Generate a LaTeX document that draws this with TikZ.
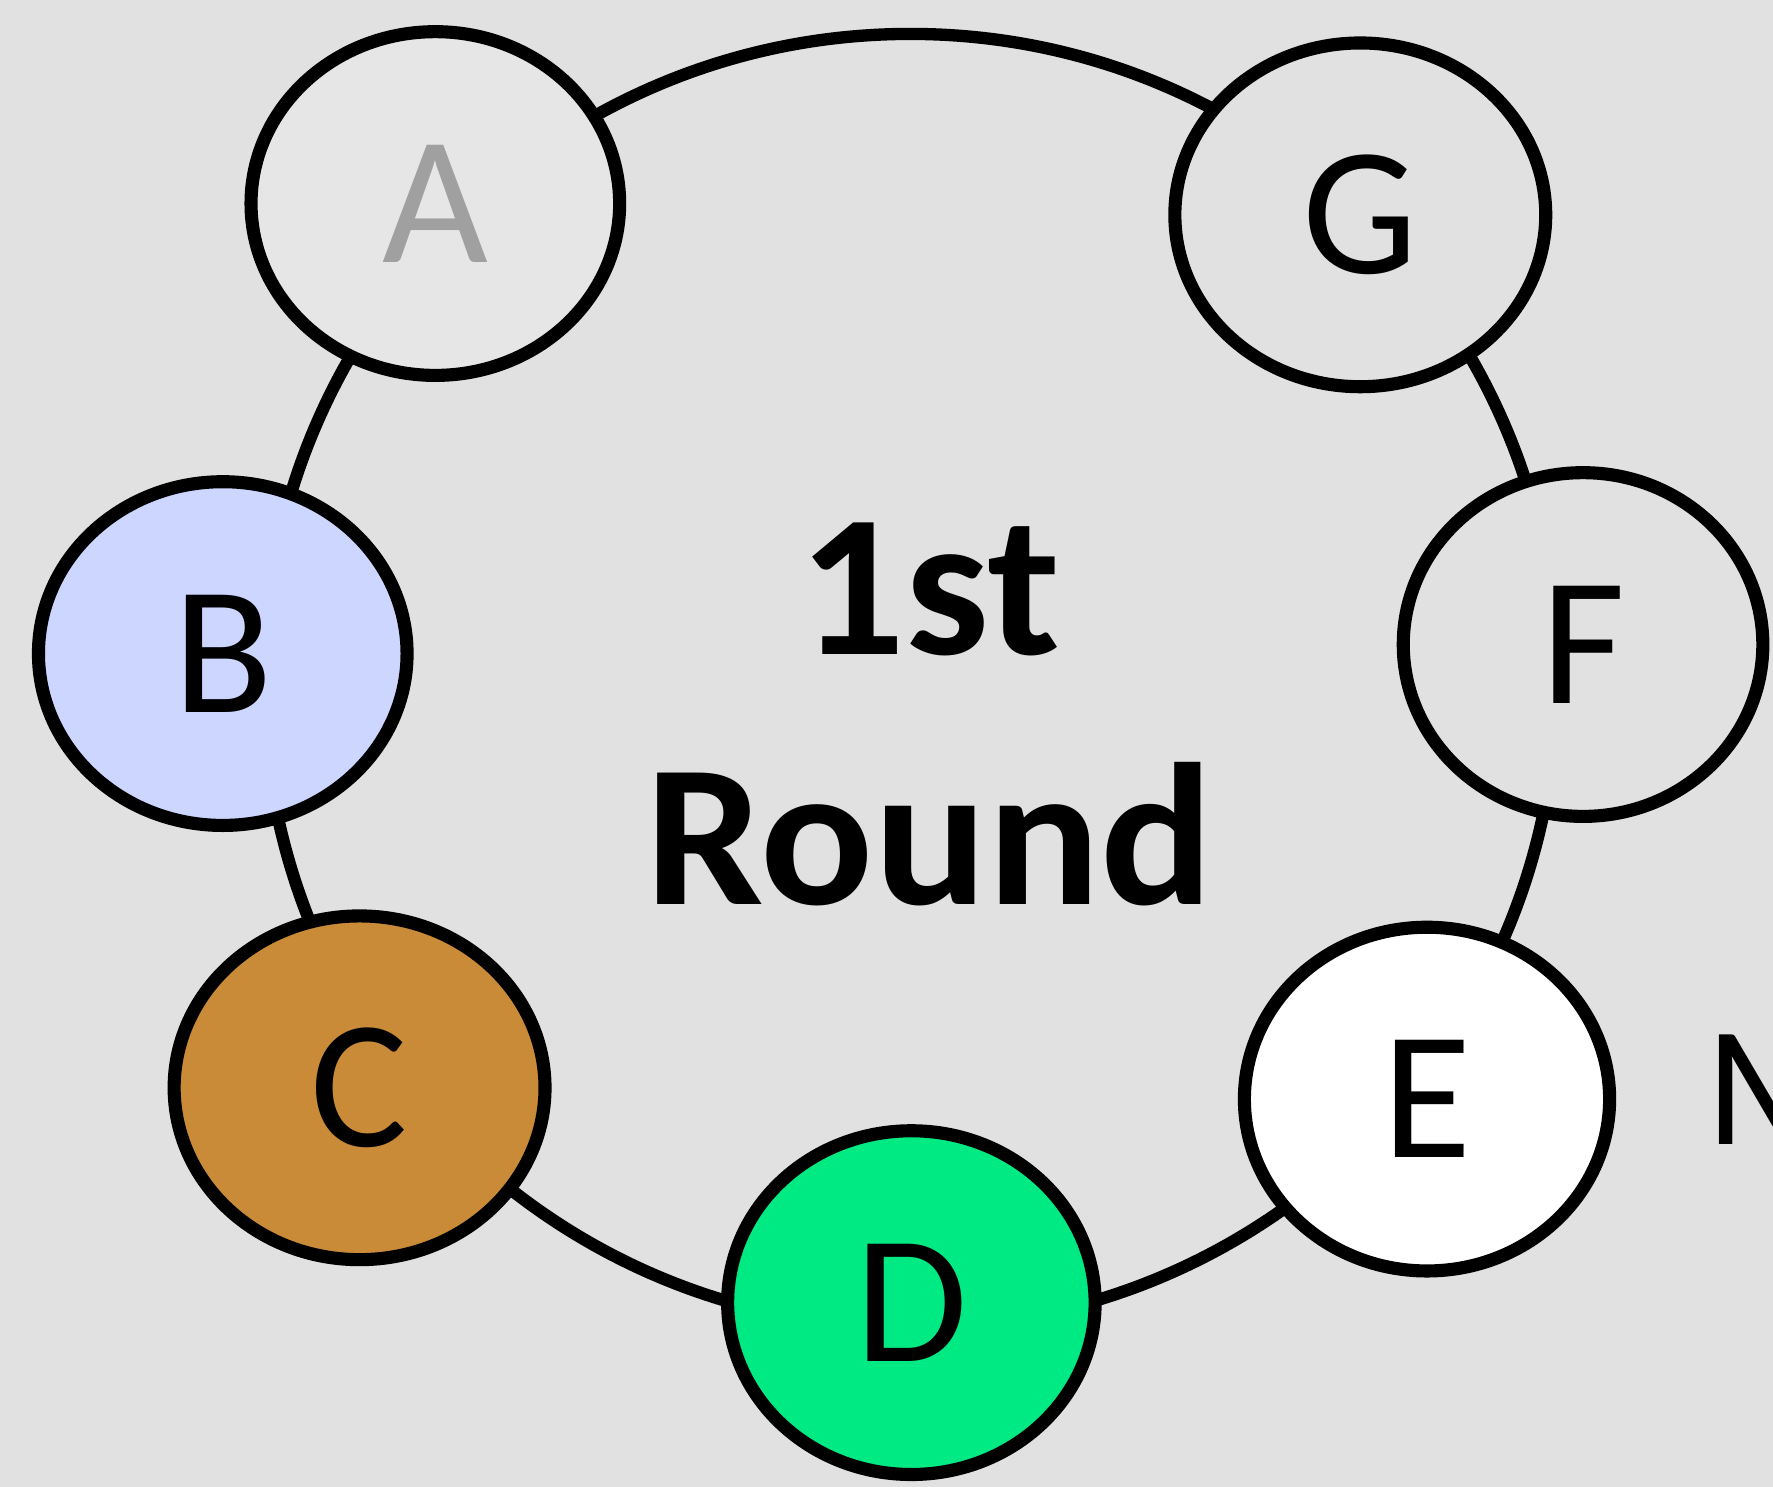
\documentclass[tikz,border=0pt]{standalone}
\usepackage{fontspec}
\setmainfont{Carlito}
\usetikzlibrary{shapes.geometric}
\definecolor{bggray}{HTML}{E1E1E1}
\definecolor{agray}{HTML}{E5E6E5}
\definecolor{atext}{HTML}{A0A0A0}
\definecolor{bblue}{HTML}{CCD6FF}
\definecolor{cbrown}{HTML}{C98B38}
\definecolor{dgreen}{HTML}{00EA84}
\tikzset{
  player/.style={ellipse, draw=black, line width=3.3pt, inner sep=0pt,
    minimum width=3.26cm, minimum height=3.04cm,
    font=\fontsize{46}{50}\selectfont},
  ringline/.style={circle, draw=black, line width=3.1pt, inner sep=0pt,
    minimum size=11.44cm}
}
\begin{document}
\begin{tikzpicture}
\useasboundingbox (0,0) rectangle (15.68,13.15);
\fill[bggray] (0,0) rectangle (15.68,13.15);
\begin{scope}
\clip (0,0) rectangle (15.68,13.15);
% ring linking the players
\node[ringline] (ring) at (8.05,7.13) {};
% players around the ring
\node[player, fill=agray, text=atext] (A) at (3.85,11.35) {A};
\node[player, fill=bggray, minimum width=3.28cm] (G) at (12.03,11.25) {G};
\node[player, fill=bblue] (B) at (1.97,7.37) {B};
\node[player, fill=bggray, minimum width=3.18cm] (F) at (14.00,7.45) {F};
\node[player, fill=cbrown, minimum width=3.28cm] (C) at (3.18,3.53) {C};
\node[player, fill=white, minimum width=3.23cm] (E) at (12.62,3.43) {E};
\node[player, fill=dgreen, minimum width=3.25cm] (D) at (8.06,1.63) {D};
% round title
\node[font=\bfseries\fontsize{51}{63}\selectfont, align=center, inner sep=0pt,
  xscale=1.04] (title) at (8.22,6.83) {1st\\Round};
% side label
\node[anchor=base west, inner sep=0pt, font=\fontsize{43}{50}\selectfont]
  (M) at (15.08,3.03) {M};
\end{scope}
\end{tikzpicture}
\end{document}
